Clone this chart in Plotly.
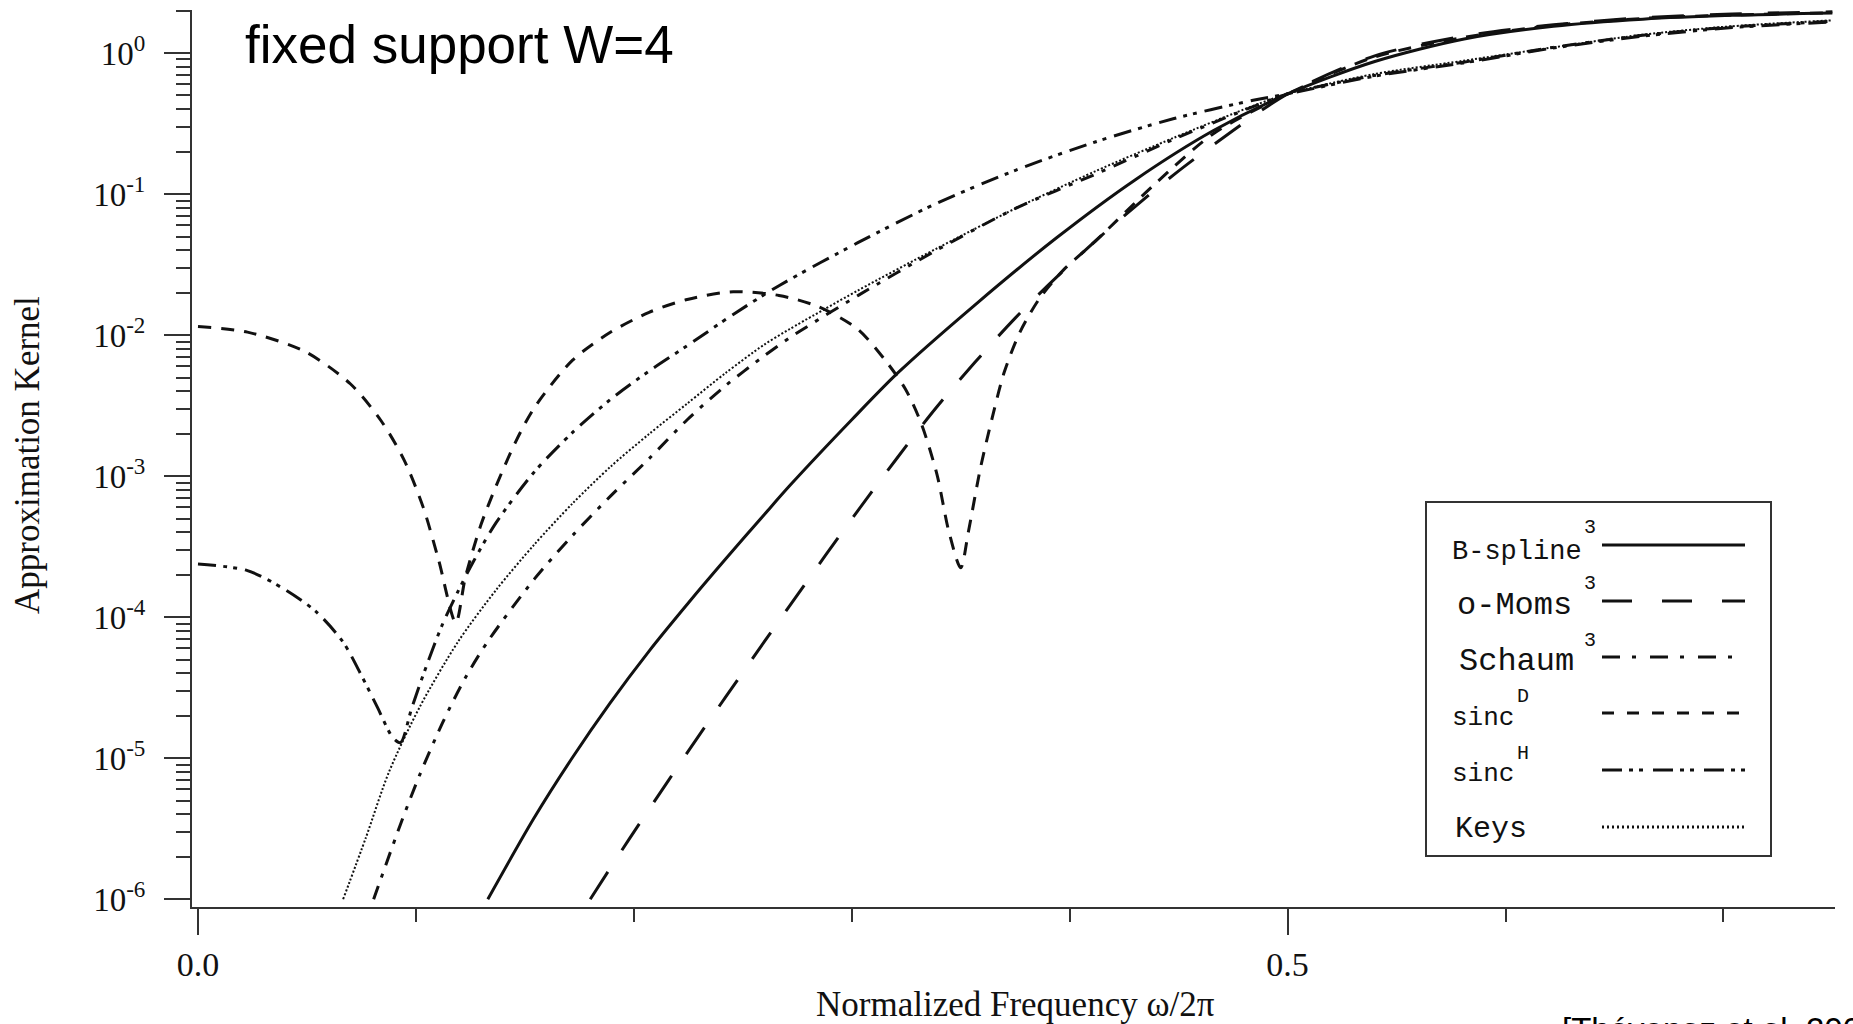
import plotly.graph_objects as go

# ---------------- data ----------------
bspline_x = [0.133, 0.154, 0.172, 0.189, 0.207, 0.225, 0.242, 0.260, 0.272, 0.300, 0.321,
             0.357, 0.394, 0.430, 0.466, 0.500, 0.540, 0.581, 0.622, 0.663, 0.704, 0.750]
bspline_y = [1.0e-6, 3.72e-6, 1.02e-5, 2.45e-5, 5.75e-5, 1.26e-4, 2.57e-4, 5.37e-4, 8.71e-4,
             2.51e-3, 5.37e-3, 1.66e-2, 4.90e-2, 0.126, 0.282, 0.513, 0.871, 1.259, 1.549,
             1.738, 1.849, 1.919]

omoms_x = [0.180, 0.198, 0.216, 0.233, 0.251, 0.271, 0.303, 0.339, 0.375, 0.412, 0.448,
           0.475, 0.500, 0.540, 0.581, 0.622, 0.663, 0.704, 0.750]
omoms_y = [1.0e-6, 2.69e-6, 7.00e-6, 1.70e-5, 4.27e-5, 1.175e-4, 5.75e-4, 3.09e-3, 1.32e-2,
           4.68e-2, 0.138, 0.282, 0.513, 0.955, 1.32, 1.585, 1.78, 1.89, 1.96]

schaum_x = [0.0806, 0.0929, 0.1017, 0.1122, 0.1227, 0.1333, 0.1543, 0.1719, 0.1894, 0.207,
            0.2245, 0.242, 0.2596, 0.2714, 0.3028, 0.3391, 0.3754, 0.4117, 0.4479, 0.4842,
            0.500, 0.5395, 0.5807, 0.6218, 0.663, 0.7041, 0.750]
schaum_y = [1.0e-6, 3.39e-6, 7.59e-6, 1.78e-5, 3.72e-5, 6.84e-5, 1.86e-4, 3.80e-4, 7.24e-4,
            1.33e-3, 2.51e-3, 4.37e-3, 7.08e-3, 9.55e-3, 1.905e-2, 4.01e-2, 7.94e-2, 0.138,
            0.245, 0.417, 0.513, 0.692, 0.861, 1.096, 1.334, 1.531, 1.679]

sincd_x = [0.000, 0.0227, 0.049, 0.070, 0.0841, 0.0946, 0.1034, 0.1104, 0.1183, 0.1227,
           0.1298, 0.1368, 0.1456, 0.1543, 0.1719, 0.1894, 0.207, 0.2245, 0.2456, 0.2666,
           0.2847, 0.3028, 0.3155, 0.3246, 0.3318, 0.3391, 0.3445, 0.350, 0.3536, 0.359,
           0.3645, 0.370, 0.3772, 0.3863, 0.3972, 0.4117, 0.4389, 0.4661, 0.500, 0.5395,
           0.5807, 0.6218, 0.663, 0.7041, 0.750]
sincd_y = [1.15e-2, 1.05e-2, 7.66e-3, 4.50e-3, 2.46e-3, 1.30e-3, 5.98e-4, 2.55e-4, 9.12e-5,
           1.92e-4, 4.50e-4, 8.51e-4, 1.73e-3, 3.05e-3, 6.64e-3, 1.05e-2, 1.45e-2, 1.79e-2,
           2.03e-2, 1.91e-2, 1.59e-2, 1.10e-2, 6.59e-3, 4.15e-3, 2.38e-3, 1.03e-3, 4.08e-4,
           2.24e-4, 4.08e-4, 1.13e-3, 2.61e-3, 5.47e-3, 1.05e-2, 1.83e-2, 2.90e-2, 4.62e-2,
           0.117, 0.269, 0.513, 0.933, 1.288, 1.567, 1.758, 1.862, 1.928]

sinch_x = [0.000, 0.0227, 0.0402, 0.0543, 0.0666, 0.0753, 0.0823, 0.0894, 0.0929, 0.0982,
           0.1052, 0.1122, 0.1192, 0.1262, 0.1368, 0.1543, 0.1719, 0.1894, 0.207, 0.2245,
           0.2456, 0.2666, 0.3028, 0.3391, 0.3754, 0.4117, 0.4479, 0.4842, 0.500, 0.5395,
           0.5807, 0.6218, 0.663, 0.7041, 0.750]
sinch_y = [2.38e-4, 2.14e-4, 1.56e-4, 1.09e-4, 6.65e-5, 3.78e-5, 2.30e-5, 1.40e-5, 1.29e-5,
           2.30e-5, 4.67e-5, 8.91e-5, 1.51e-4, 2.45e-4, 4.68e-4, 1.07e-3, 2.04e-3, 3.51e-3,
           5.56e-3, 8.41e-3, 1.40e-2, 2.24e-2, 4.52e-2, 8.61e-2, 0.148, 0.234, 0.343, 0.462,
           0.513, 0.684, 0.851, 1.084, 1.318, 1.514, 1.660]

keys_x = [0.0666, 0.0771, 0.0876, 0.1017, 0.1192, 0.1368, 0.1543, 0.1719, 0.1894, 0.207,
          0.2245, 0.242, 0.2596, 0.2714, 0.3028, 0.3391, 0.3754, 0.4117, 0.4479, 0.4842,
          0.500, 0.5395, 0.5807, 0.6218, 0.663, 0.7041, 0.750]
keys_y = [1.0e-6, 2.75e-6, 7.96e-6, 2.30e-5, 6.65e-5, 1.56e-4, 3.27e-4, 6.41e-4, 1.17e-3,
          1.99e-3, 3.27e-3, 5.37e-3, 8.51e-3, 1.10e-2, 2.07e-2, 4.12e-2, 7.94e-2, 0.145,
          0.251, 0.422, 0.513, 0.708, 0.881, 1.096, 1.349, 1.549, 1.706]

x_tick_vals = [0.0, 0.5]
x_tick_text = ["0.0", "0.5"]
x_minor_vals = [0.1, 0.2, 0.3, 0.4, 0.6, 0.7]
y_exponents = [-6, -5, -4, -3, -2, -1, 0]

legend_labels = ["B-spline", "o-Moms", "Schaum", "sinc", "sinc", "Keys"]
legend_sups = ["3", "3", "3", "D", "H", ""]

# ---------------- styles ----------------
INK = "#111111"
AX = "#333333"
styles = [
    dict(dash="solid", width=3),
    dict(dash="32px,26px", width=3),
    dict(dash="14px,9px,4px,9px", width=3),
    dict(dash="13px,10px", width=3),
    dict(dash="18px,7px,4px,6px,4px,8px", width=3),
    dict(dash="2px,2px", width=2),
]
legend_dash = ["solid", "30px,30px", "18px,12px,4px,14px", "12px,13px",
               "20px,7px,4px,6px,4px,10px", "2px,3px"]
series = [(bspline_x, bspline_y), (omoms_x, omoms_y), (schaum_x, schaum_y),
          (sincd_x, sincd_y), (sinch_x, sinch_y), (keys_x, keys_y)]
names = ["B-spline³", "o-Moms³", "Schaum³", "sinc^D", "sinc^H", "Keys"]

fig = go.Figure()
for (xs, ys), st, name in zip(series, styles, names):
    fig.add_trace(go.Scatter(
        x=xs, y=ys, mode="lines", name=name, showlegend=False, hoverinfo="skip",
        line=dict(color=INK, width=st["width"], dash=st["dash"], shape="spline", smoothing=0.8),
    ))

# plot-area geometry (pixels) for paper-coordinate decorations
L, R, T, B = 192, 18, 10, 117
W, H = 1853, 1024
PW, PH = W - L - R, H - T - B


def px(xp):
    return (xp - L) / PW


def py(yp):
    return (H - B - yp) / PH


serif = "Liberation Serif, Times New Roman, serif"
sans = "Liberation Sans, Arial, sans-serif"
mono = "Liberation Mono, Courier New, monospace"

# legend (built by hand: text first, sample line after)
shapes = [dict(type="rect", xref="paper", yref="paper",
               x0=px(1426), x1=px(1771), y0=py(856), y1=py(502),
               line=dict(color=AX, width=2), fillcolor="white", layer="above")]
annotations = []
rows_line_y = [545, 601, 657, 713, 770, 827]
rows_text_y = [552, 606, 661, 718, 774, 829]
text_x = [1450, 1455, 1457, 1450, 1450, 1453]
text_size = [27, 32, 32, 26, 26, 30]
sup_x = [1582, 1582, 1582, 1515, 1515, 0]
sup_y = [527, 583, 640, 697, 753, 0]
for i, lab in enumerate(legend_labels):
    shapes.append(dict(type="line", xref="paper", yref="paper",
                       x0=px(1602), x1=px(1745), y0=py(rows_line_y[i]), y1=py(rows_line_y[i]),
                       line=dict(color=INK, width=3, dash=legend_dash[i]), layer="above"))
    annotations.append(dict(xref="paper", yref="paper", x=px(text_x[i]), y=py(rows_text_y[i]),
                            xanchor="left", yanchor="middle", showarrow=False, text=lab,
                            font=dict(family=mono, size=text_size[i], color=INK)))
    if legend_sups[i]:
        annotations.append(dict(xref="paper", yref="paper", x=px(sup_x[i]), y=py(sup_y[i]),
                                xanchor="left", yanchor="middle", showarrow=False,
                                text=legend_sups[i],
                                font=dict(family=mono, size=20, color=INK)))

annotations += [
    dict(xref="paper", yref="paper", x=px(243), y=py(44), xanchor="left", yanchor="middle",
         showarrow=False, text="fixed support W=4", font=dict(family=sans, size=53, color="black")),
    dict(xref="paper", yref="paper", x=px(28), y=py(455), xanchor="center", yanchor="middle",
         textangle=-90, showarrow=False, text="Approximation Kernel",
         font=dict(family=serif, size=35, color=INK)),
    dict(xref="paper", yref="paper", x=px(1015), y=py(1004), xanchor="center", yanchor="middle",
         showarrow=False, text="Normalized Frequency ω/2π",
         font=dict(family=serif, size=35, color=INK)),
    dict(xref="paper", yref="paper", x=px(1560), y=py(1029), xanchor="left", yanchor="middle",
         showarrow=False, text="[Thévenaz et al. 2000]",
         font=dict(family=sans, size=33, color="black")),
]

y_tick_vals = [10.0 ** e for e in y_exponents]
y_tick_text = ["10<sup>%d</sup>" % e for e in y_exponents]
y_minor_vals = [k * 10.0 ** e for e in y_exponents[:-1] for k in range(2, 10)] + [2.0]

fig.update_layout(
    width=W, height=H,
    margin=dict(l=L, r=R, t=T, b=B, pad=0),
    paper_bgcolor="white", plot_bgcolor="white",
    showlegend=False, hovermode=False,
    shapes=shapes, annotations=annotations,
    xaxis=dict(
        range=[-0.00275, 0.7512], showgrid=False, zeroline=False,
        showline=True, linecolor=AX, linewidth=2, mirror=False,
        ticks="outside", ticklen=26, tickwidth=2, tickcolor=AX,
        tickmode="array", tickvals=x_tick_vals, ticktext=x_tick_text,
        ticklabelstandoff=0,
        tickfont=dict(family=serif, size=34, color=INK),
        minor=dict(tickmode="array", tickvals=x_minor_vals, ticks="outside",
                   ticklen=13, tickwidth=2, tickcolor=AX, showgrid=False),
    ),
    yaxis=dict(
        type="log", range=[-6.055, 0.305], showgrid=False, zeroline=False,
        showline=True, linecolor=AX, linewidth=2,
        ticks="outside", ticklen=26, tickwidth=2, tickcolor=AX,
        tickmode="array", tickvals=y_tick_vals, ticktext=y_tick_text,
        ticklabelstandoff=12,
        tickfont=dict(family=serif, size=33, color=INK),
        minor=dict(tickmode="array", tickvals=y_minor_vals, ticks="outside",
                   ticklen=14, tickwidth=2, tickcolor=AX, showgrid=False),
    ),
)

fig.write_html("out.html")
